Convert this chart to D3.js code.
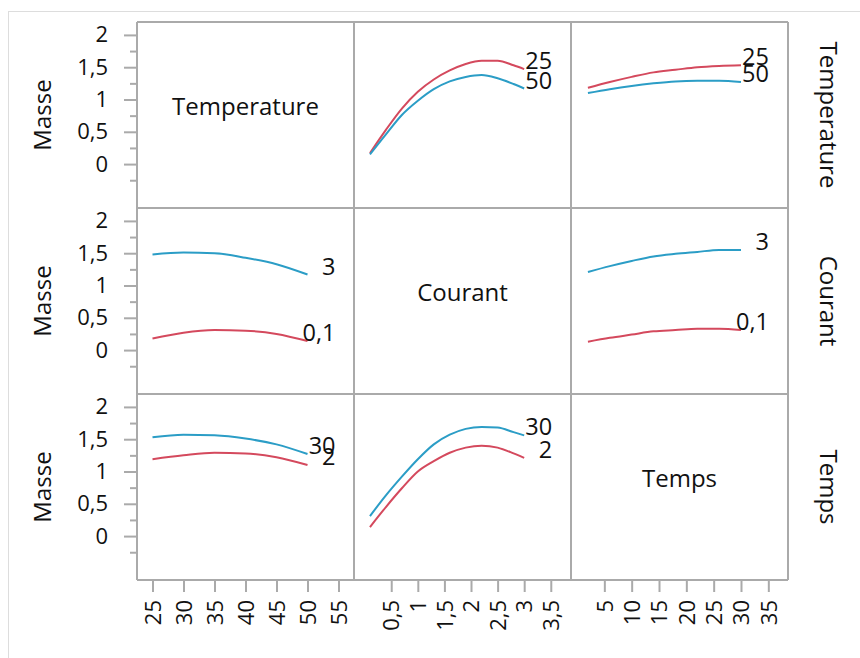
<!DOCTYPE html>
<html>
<head>
<meta charset="utf-8">
<script src="https://cdn.jsdelivr.net/npm/d3@7"></script>
<style>
  body { margin: 0; background: #fff; }
  text { font-family: "Open Sans", sans-serif; fill: #111; }
</style>
</head>
<body>
<svg width="860" height="658"></svg>
<script>
// factors of the profiler (rows and columns)
var factors = ["Temperature", "Courant", "Temps"];

// x grids where the profile traces were read
var temperatureGrid = [25, 30, 35, 40, 45, 50],
    courantGrid = [0.1, 0.4, 0.7, 1.0, 1.3, 1.6, 1.9, 2.2, 2.5, 2.8, 3.0],
    tempsGrid = [2, 6, 10, 14, 18, 22, 26, 30];

// axis ticks
var temperatureTicks = [25, 30, 35, 40, 45, 50, 55],
    courantTicks = [0.5, 1, 1.5, 2, 2.5, 3, 3.5],
    tempsTicks = [5, 10, 15, 20, 25, 30, 35],
    masseTicks = [0, 0.5, 1, 1.5, 2],
    masseMinor = [-0.25, 0.25, 0.75, 1.25, 1.75];

// row Temperature: levels 25 (low) and 50 (high)
var temperatureLevels = ["25", "50"];
var temp25VsCourant = [0.17, 0.53, 0.86, 1.12, 1.31, 1.45, 1.55, 1.60, 1.60, 1.53, 1.47],
    temp50VsCourant = [0.15, 0.46, 0.76, 0.98, 1.16, 1.28, 1.35, 1.38, 1.33, 1.24, 1.17],
    temp25VsTemps = [1.18, 1.27, 1.35, 1.42, 1.46, 1.50, 1.52, 1.53],
    temp50VsTemps = [1.10, 1.16, 1.21, 1.25, 1.28, 1.29, 1.29, 1.27];

// row Courant: levels 0,1 (low) and 3 (high)
var courantLevels = ["0,1", "3"];
var cour01VsTemperature = [0.18, 0.27, 0.31, 0.30, 0.25, 0.14],
    cour3VsTemperature = [1.48, 1.51, 1.50, 1.43, 1.33, 1.17],
    cour01VsTemps = [0.13, 0.19, 0.24, 0.29, 0.31, 0.33, 0.33, 0.31],
    cour3VsTemps = [1.21, 1.30, 1.38, 1.45, 1.49, 1.52, 1.55, 1.55];

// row Temps: levels 2 (low) and 30 (high)
var tempsLevels = ["2", "30"];
var temps2VsTemperature = [1.19, 1.25, 1.29, 1.28, 1.22, 1.10],
    temps30VsTemperature = [1.53, 1.57, 1.56, 1.51, 1.42, 1.27],
    temps2VsCourant = [0.14, 0.45, 0.74, 1.00, 1.16, 1.29, 1.37, 1.40, 1.37, 1.28, 1.21],
    temps30VsCourant = [0.31, 0.63, 0.92, 1.19, 1.42, 1.57, 1.66, 1.69, 1.68, 1.61, 1.56];

var svg = d3.select("svg"),
    padLeft = 137, padTop = 22, cellW = 217, cellH = 186,
    lowColor = "#d4495d", highColor = "#2b9dc6", frameColor = "#aaa";

var fmt = function(d) { return String(d).replace(".", ","); };

// x scales per column
var xScales = [
  d3.scaleLinear().domain([22.5, 57.5]).range([0, cellW]),
  d3.scaleLinear().domain([-0.2, 3.88]).range([0, cellW]),
  d3.scaleLinear().domain([-1.1, 38.6]).range([0, cellW])
];
var xTicks = [temperatureTicks, courantTicks, tempsTicks];
var grids = [temperatureGrid, courantGrid, tempsGrid];
var y = d3.scaleLinear().domain([-0.68, 2.2]).range([cellH, 0]);

// profile traces: [row][col] -> [low, high] or null on diagonal
var traces = [
  [null, [temp25VsCourant, temp50VsCourant], [temp25VsTemps, temp50VsTemps]],
  [[cour01VsTemperature, cour3VsTemperature], null, [cour01VsTemps, cour3VsTemps]],
  [[temps2VsTemperature, temps30VsTemperature], [temps2VsCourant, temps30VsCourant], null]
];
var levels = [temperatureLevels, courantLevels, tempsLevels];

// light outer frame
svg.append("rect")
    .attr("x", 8.5).attr("y", 11.5).attr("width", 900).attr("height", 700)
    .attr("fill", "none").attr("stroke", "#ddd");

var line = d3.line().curve(d3.curveMonotoneX);

for (var r = 0; r < 3; r++) {
  var rowY = padTop + r * cellH;

  // y axis for the row
  var yAxis = svg.append("g")
      .attr("transform", "translate(" + padLeft + "," + rowY + ")")
      .call(d3.axisLeft(y).tickValues(masseTicks).tickSize(13).tickPadding(16).tickFormat(fmt));
  yAxis.select(".domain").remove();
  yAxis.selectAll("line").attr("stroke", frameColor).attr("stroke-width", 2);
  yAxis.selectAll("text").style("font-size", "22px").attr("fill", "#111");

  var yMinor = svg.append("g")
      .attr("transform", "translate(" + padLeft + "," + rowY + ")")
      .call(d3.axisLeft(y).tickValues(masseMinor).tickSize(7).tickFormat(""));
  yMinor.select(".domain").remove();
  yMinor.selectAll("line").attr("stroke", frameColor).attr("stroke-width", 2);

  svg.append("text")
      .attr("transform", "translate(51," + (rowY + cellH / 2) + ") rotate(-90)")
      .attr("text-anchor", "middle")
      .style("font-size", "24px")
      .text("Masse");

  svg.append("text")
      .attr("transform", "translate(820," + (rowY + cellH / 2) + ") rotate(90)")
      .attr("text-anchor", "middle")
      .style("font-size", "24px")
      .text(factors[r]);

  for (var c = 0; c < 3; c++) {
    var g = svg.append("g")
        .attr("transform", "translate(" + (padLeft + c * cellW) + "," + rowY + ")");
    var x = xScales[c];

    if (traces[r][c] == null) {
      g.append("text")
          .attr("x", cellW / 2).attr("y", cellH / 2)
          .attr("text-anchor", "middle")
          .style("font-size", "24px")
          .text(factors[c]);
    } else {
      var grid = grids[c];
      traces[r][c].forEach(function(vals, i) {
        var pts = vals.map(function(v, k) { return [x(grid[k]), y(v)]; });
        g.append("path")
            .attr("d", line(pts))
            .attr("fill", "none")
            .attr("stroke", i == 0 ? lowColor : highColor)
            .attr("stroke-width", 2);
        var last = pts[pts.length - 1];
        g.append("text")
            .attr("x", last[0] + 28).attr("y", last[1])
            .attr("text-anchor", "end")
            .style("font-size", "23.5px")
            .text(levels[r][i]);
      });
    }
  }
}

// x axes along the bottom
var bottom = padTop + 3 * cellH;
for (var c = 0; c < 3; c++) {
  var xa = svg.append("g")
      .attr("transform", "translate(" + (padLeft + c * cellW) + "," + bottom + ")")
      .call(d3.axisBottom(xScales[c]).tickValues(xTicks[c]).tickSize(12).tickFormat(fmt));
  xa.select(".domain").remove();
  xa.selectAll("line").attr("stroke", frameColor).attr("stroke-width", 2);
  xa.selectAll("text")
      .attr("transform", "rotate(-90)")
      .attr("text-anchor", "end")
      .attr("x", -20).attr("y", 0).attr("dy", "0.35em")
      .style("font-size", "22px").attr("fill", "#111");
}

// panel grid
var frame = svg.append("g").attr("fill", "none").attr("stroke", frameColor).attr("stroke-width", 2);
for (var i = 0; i <= 3; i++) {
  frame.append("line").attr("x1", padLeft + i * cellW).attr("x2", padLeft + i * cellW)
      .attr("y1", padTop).attr("y2", bottom);
  frame.append("line").attr("y1", padTop + i * cellH).attr("y2", padTop + i * cellH)
      .attr("x1", padLeft).attr("x2", padLeft + 3 * cellW);
}
</script>
</body>
</html>
